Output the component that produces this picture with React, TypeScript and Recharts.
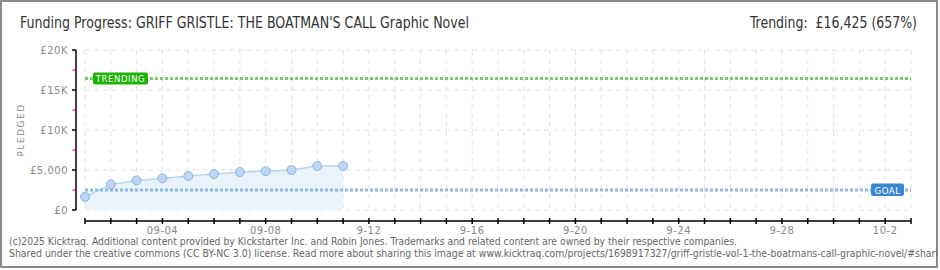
import React from 'react';
import {
  ComposedChart,
  Area,
  XAxis,
  YAxis,
  CartesianGrid,
  ReferenceLine,
} from 'recharts';

// ---- data ----
const dates = ['09-01', '09-02', '09-03', '09-04', '09-05', '09-06', '09-07', '09-08', '09-09', '09-10', '09-11'];
const dayIndex = [0, 1, 2, 3, 4, 5, 6, 7, 8, 9, 10];
const pledged = [1650, 3200, 3700, 3950, 4250, 4500, 4750, 4850, 5000, 5500, 5500];
const goal = 2500;
const trending = 16425;

const xTickDays = [0, 1, 2, 3, 4, 5, 6, 7, 8, 9, 10, 11, 12, 13, 14, 15, 16, 17, 18, 19, 20, 21, 22, 23, 24, 25, 26, 27, 28, 29, 30, 31, 32];
const xLabelDays = [3, 7, 11, 15, 19, 23, 27, 31];
const xLabels = ['09-04', '09-08', '9-12', '9-16', '9-20', '9-24', '9-28', '10-2'];

const yTicks = [0, 2500, 5000, 7500, 10000, 12500, 15000, 17500, 20000];
const yMajorTicks = [0, 5000, 10000, 15000, 20000];
const yLabels = ['£0', '£5,000', '£10K', '£15K', '£20K'];

const titleText = "Funding Progress: GRIFF GRISTLE: THE BOATMAN'S CALL Graphic Novel";
const trendText = 'Trending:  £16,425 (657%)';
const footer1 = '(c)2025 Kicktraq. Additional content provided by Kickstarter Inc. and Robin Jones. Trademarks and related content are owned by their respective companies.';
const footer2 = 'Shared under the creative commons (CC BY-NC 3.0) license. Read more about sharing this image at www.kicktraq.com/projects/1698917327/griff-gristle-vol-1-the-boatmans-call-graphic-novel/#shari';

const chartData = dayIndex.map((d, i) => ({ day: d, date: dates[i], pledged: pledged[i] }));

const pixelFont = "'DejaVu Sans', Verdana, sans-serif";

const XTick = (props: any) => {
  const { x, y, payload } = props;
  const idx = xLabelDays.indexOf(payload.value);
  return (
    <g>
      <line x1={x} x2={x} y1={y + 8} y2={y + 14} stroke="#000" strokeWidth={1.5} />
      {idx >= 0 && (
        <text x={x} y={y + 24} textAnchor="middle" fontSize={10} fontFamily={pixelFont} fill="#888" letterSpacing={0.5}>
          {xLabels[idx]}
        </text>
      )}
    </g>
  );
};

const YTick = (props: any) => {
  const { x, y, payload } = props;
  const idx = yMajorTicks.indexOf(payload.value);
  if (idx < 0) {
    return <line x1={x - 12.5} x2={x - 9} y1={y} y2={y} stroke="#e00" strokeWidth={1} />;
  }
  return (
    <g>
      <line x1={x - 13} x2={x - 9} y1={y} y2={y} stroke="#000" strokeWidth={1.5} />
      <text x={x - 17} y={y + 4} textAnchor="end" fontSize={10} fontFamily={pixelFont} fill="#888" letterSpacing={0.5}>
        {yLabels[idx]}
      </text>
    </g>
  );
};

const TrendLabel = (props: any) => {
  const { viewBox } = props;
  const x = viewBox.x + 8;
  const y = viewBox.y;
  return (
    <g>
      <rect x={x} y={y - 6} width={55} height={12} rx={2} fill="#19b300" />
      <text x={x + 27.5} y={y + 3.5} textAnchor="middle" fontSize={8.5} fontFamily={pixelFont} fill="#fff" letterSpacing={0.6}>
        TRENDING
      </text>
    </g>
  );
};

const GoalLabel = (props: any) => {
  const { viewBox } = props;
  const x = viewBox.x + viewBox.width - 40;
  const y = viewBox.y;
  return (
    <g>
      <rect x={x} y={y - 6.5} width={33} height={12.5} rx={2} fill="#3a86d6" />
      <text x={x + 16.5} y={y + 3.5} textAnchor="middle" fontSize={8.5} fontFamily={pixelFont} fill="#fff" letterSpacing={0.6}>
        GOAL
      </text>
    </g>
  );
};

export default function App() {
  return (
    <div style={{ position: 'absolute', left: 0, top: 0, width: 940, height: 270, background: '#fff' }}>
      <ComposedChart
        width={940}
        height={270}
        data={chartData}
        margin={{ top: 50, right: 29, bottom: 30, left: 0 }}
      >
        <CartesianGrid
          stroke="#e2e2e2"
          strokeDasharray="5 4"
          horizontalValues={yMajorTicks}
        />
        <XAxis
          dataKey="day"
          type="number"
          domain={[0, 32]}
          ticks={xTickDays}
          interval={0}
          height={30}
          tickSize={0}
          tickMargin={0}
          tickLine={false}
          axisLine={{ stroke: '#000', strokeWidth: 1.5, transform: 'translate(0, 11)' }}
          tick={<XTick />}
        />
        <YAxis
          type="number"
          domain={[0, 20000]}
          ticks={yTicks}
          interval={0}
          width={85}
          tickSize={0}
          tickMargin={0}
          tickLine={false}
          axisLine={{ stroke: '#000', strokeWidth: 1.5, transform: 'translate(-9, 0)' }}
          tick={<YTick />}
          label={{
            value: 'PLEDGED',
            angle: -90,
            position: 'insideLeft',
            offset: 21,
            style: { fontSize: 9, fill: '#888', letterSpacing: 1.5, fontFamily: pixelFont, textAnchor: 'middle' },
          }}
        />
        <Area
          type="linear"
          dataKey="pledged"
          stroke="#b8d4f1"
          strokeWidth={1.5}
          fill="#eaf2fc"
          fillOpacity={1}
          isAnimationActive={false}
          dot={{ r: 4.5, fill: '#bcd7f5', stroke: '#8fb2dc', strokeWidth: 1 }}
          activeDot={false}
        />
        <ReferenceLine
          y={goal}
          stroke="#8db7e4"
          strokeWidth={3}
          strokeDasharray="3 2"
          label={<GoalLabel />}
        />
        <ReferenceLine
          y={trending}
          stroke="#7ccb6a"
          strokeWidth={3}
          strokeDasharray="3 2"
          label={<TrendLabel />}
        />
      </ComposedChart>
      <svg
        width={940}
        height={270}
        style={{ position: 'absolute', left: 0, top: 0, pointerEvents: 'none' }}
      >
        <rect x={1} y={1} width={936} height={266} fill="none" stroke="#8c8c8c" strokeWidth={2} />
        <text
          x={20}
          y={28}
          fontSize={15}
          fontFamily="'Liberation Sans Narrow', 'DejaVu Sans Condensed', sans-serif"
          fill="#333"
          textLength={449}
          lengthAdjust="spacingAndGlyphs"
        >
          {titleText}
        </text>
        <text
          x={917}
          y={28}
          fontSize={15}
          textAnchor="end"
          fontFamily="'Liberation Sans Narrow', 'DejaVu Sans Condensed', sans-serif"
          fill="#333"
          textLength={167}
          lengthAdjust="spacingAndGlyphs"
          style={{ whiteSpace: 'pre' }}
        >
          {trendText}
        </text>
        <text
          x={9}
          y={245}
          fontSize={10}
          fontFamily="'DejaVu Sans Condensed', 'Liberation Sans Narrow', sans-serif"
          fill="#666"
          textLength={728}
          lengthAdjust="spacingAndGlyphs"
        >
          {footer1}
        </text>
        <text
          x={9}
          y={257}
          fontSize={10}
          fontFamily="'DejaVu Sans Condensed', 'Liberation Sans Narrow', sans-serif"
          fill="#666"
          textLength={929}
          lengthAdjust="spacingAndGlyphs"
        >
          {footer2}
        </text>
      </svg>
    </div>
  );
}
